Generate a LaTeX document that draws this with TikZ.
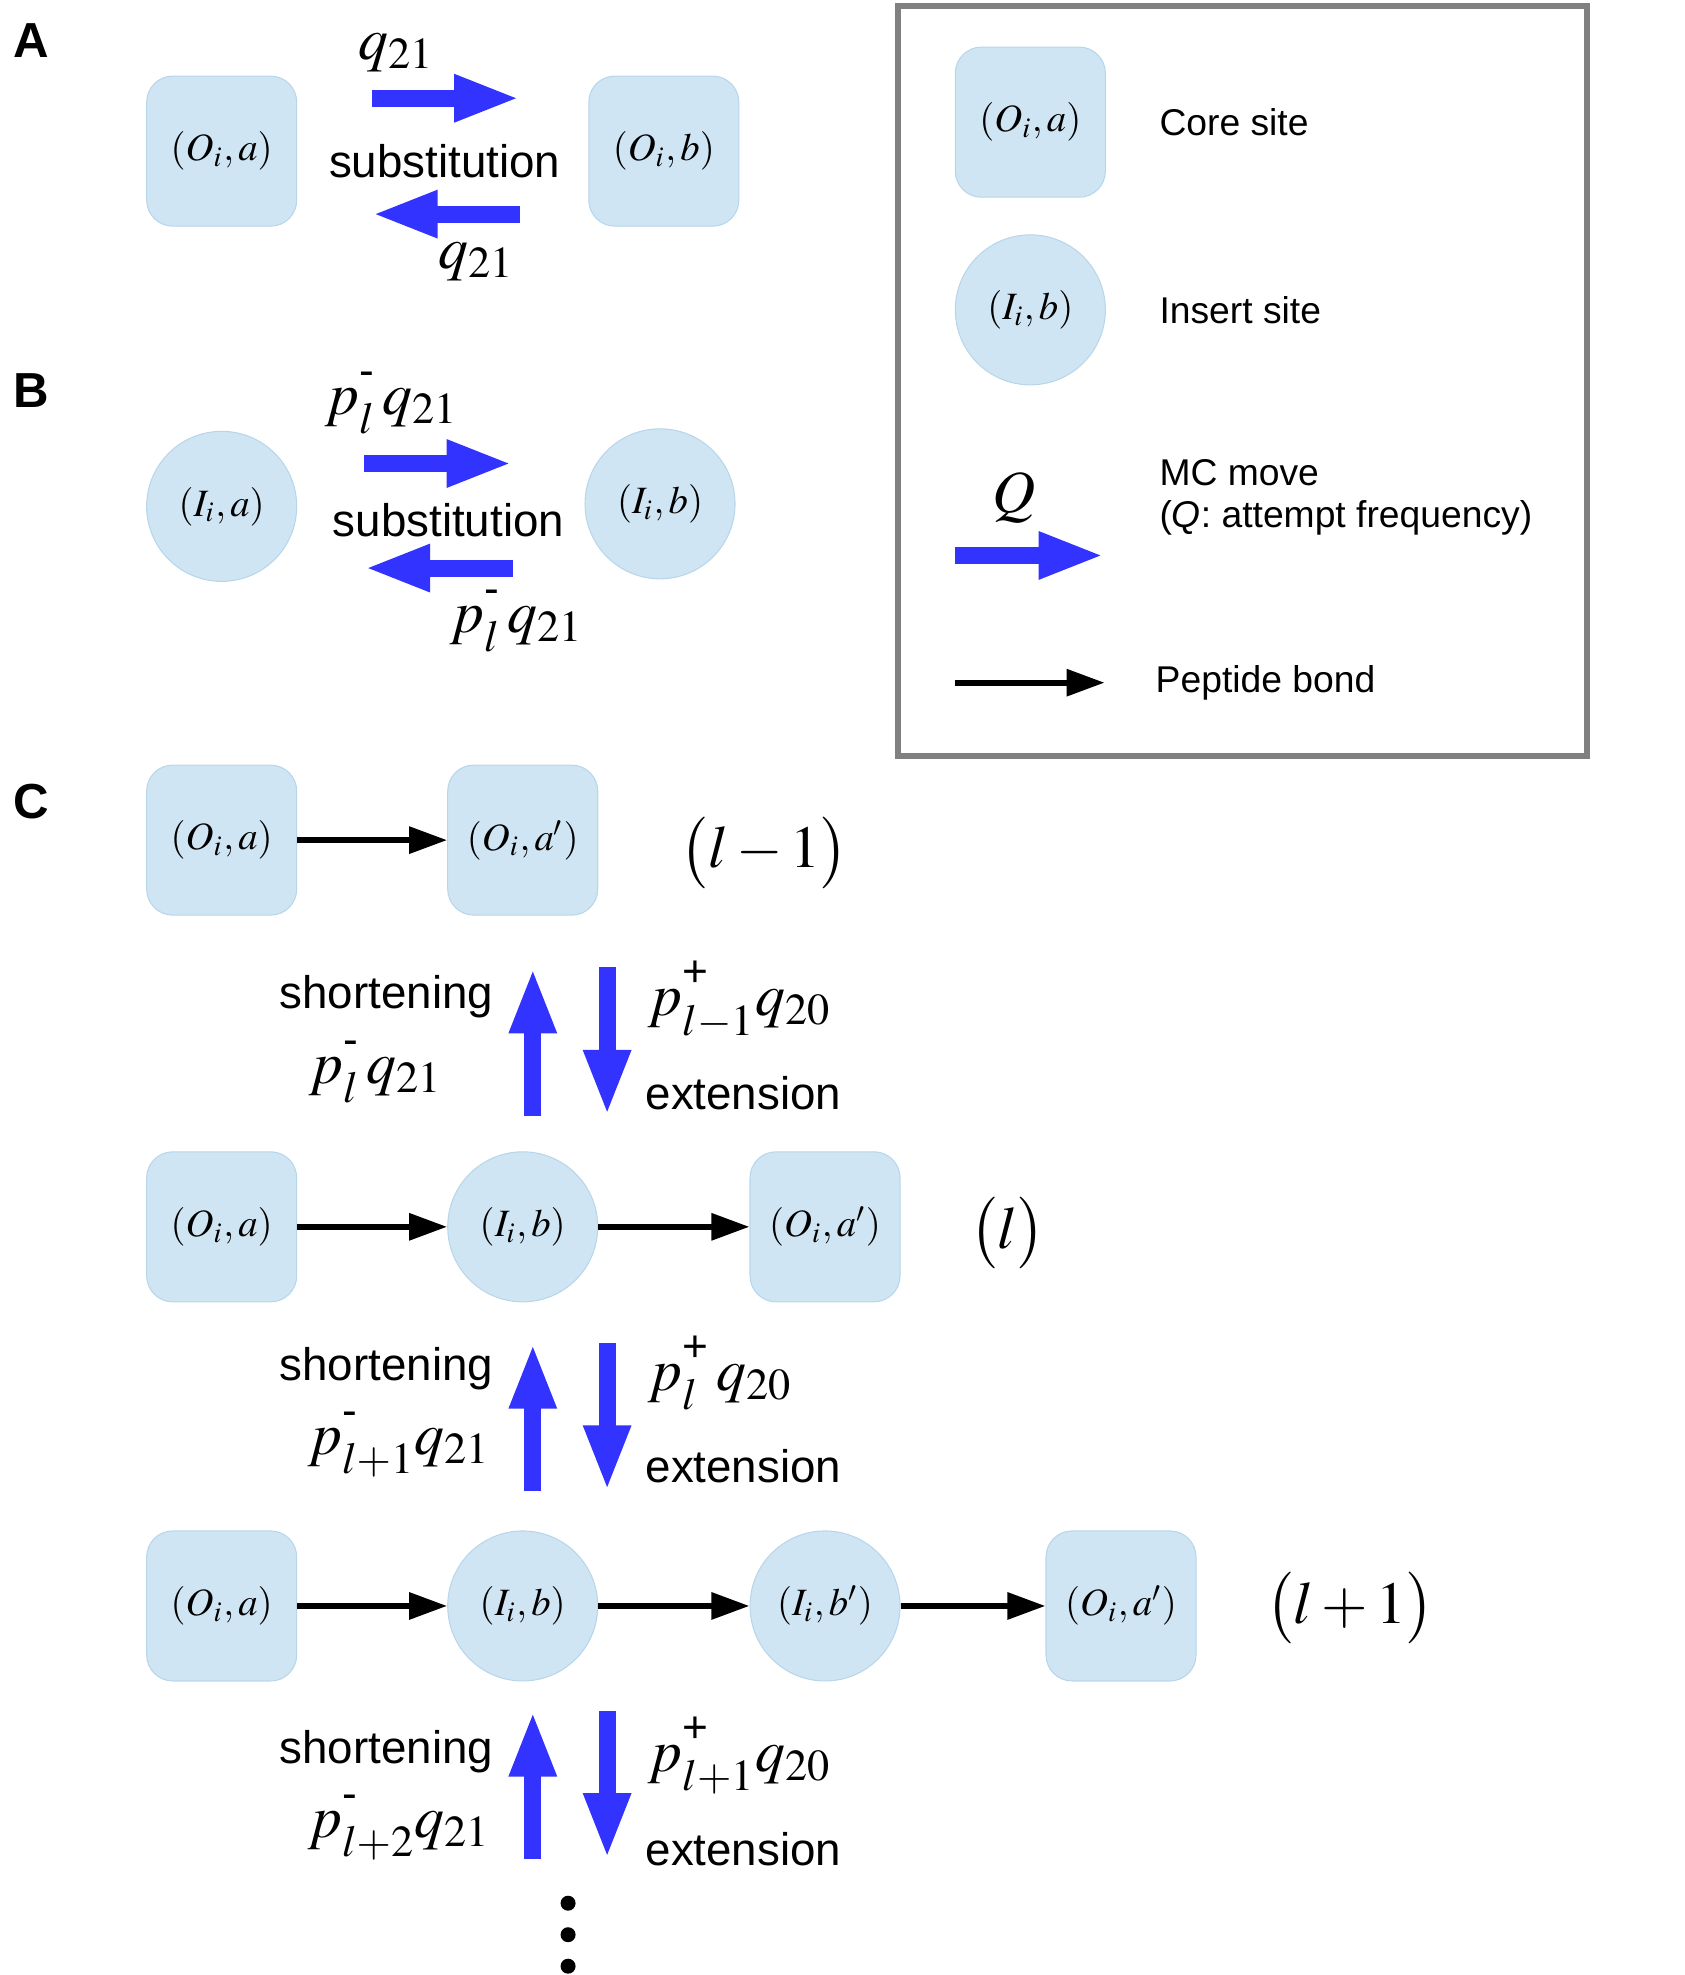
\documentclass[tikz,border=0pt]{standalone}
\usepackage{amsmath}
\usepackage{mathptmx}
\usepackage[no-math]{fontspec}
\setmainfont{Liberation Sans}
\usepackage{tikz}
\usetikzlibrary{arrows.meta}
\usetikzlibrary{math}
\usetikzlibrary{positioning}

\definecolor{siteblue}{RGB}{207,229,243}
\definecolor{siteedge}{RGB}{184,214,234}
\definecolor{moveblue}{RGB}{51,51,255}
\definecolor{legendgray}{RGB}{128,128,128}

% raised sign over a subscripted p
\newcommand{\chg}[1]{\text{\rule[-0.35ex]{0pt}{0pt}#1}}

\tikzset{
  core/.style={rectangle, rounded corners=2.6mm, minimum width=15mm, minimum height=15mm,
    inner sep=0pt, fill=siteblue, draw=siteedge, line width=0.3pt, font=\fontsize{11}{13}\selectfont},
  insert/.style={circle, minimum size=15mm, inner sep=0pt, fill=siteblue, draw=siteedge,
    line width=0.3pt, font=\fontsize{11}{13}\selectfont},
  bond/.style={-{Triangle[length=3.8mm,width=2.6mm]}, line width=0.6mm},
  move/.style={-{Triangle[length=6.6mm,width=4.3mm]}, line width=1.7mm, draw=moveblue},
  txt/.style={inner sep=0pt, font=\fontsize{13}{15}\selectfont},
  legtxt/.style={inner sep=0pt, anchor=west, align=left, font=\fontsize{10.6}{11.8}\selectfont},
  rate/.style={inner sep=0pt, font=\fontsize{17}{20}\selectfont},
  panel/.style={inner sep=0pt, font=\fontsize{14}{16}\selectfont\bfseries},
}

\begin{document}
\begin{tikzpicture}[x=0.12595mm, y=-0.12595mm]
\useasboundingbox (0,0) rectangle (1337,1568);

% A: substitution at a core site
\node[panel] (labA) at (25,32) {A};
\node[core] (Aa) at (176,120) {$(O_i,a)$};
\node[core] (Ab) at (527,120) {$(O_i,b)$};
\coordinate (Af1) at (295,78);  \coordinate (Af2) at (413,78);
\coordinate (Ar1) at (413,170); \coordinate (Ar2) at (295,170);
\draw[move] (Af1) -- (Af2);
\draw[move] (Ar1) -- (Ar2);
\node[txt] (subA) at (353,128) {substitution};
\node[rate] (qA1) at (315,42) {$q_{21}$};
\node[rate] (qA2) at (378,208) {$q_{21}$};

% B: substitution at an insert site
\node[panel] (labB) at (25,310) {B};
\node[insert] (Ba) at (176,402) {$(I_i,a)$};
\node[insert] (Bb) at (524,400) {$(I_i,b)$};
\coordinate (Bf1) at (289,368); \coordinate (Bf2) at (407,368);
\coordinate (Br1) at (407,451); \coordinate (Br2) at (289,451);
\draw[move] (Bf1) -- (Bf2);
\draw[move] (Br1) -- (Br2);
\node[txt] (subB) at (356,413) {substitution};
\node[rate] (pB1) at (311,320) {$p^{\chg{-}}_{l}\,q_{21}$};
\node[rate] (pB2) at (410,493) {$p^{\chg{-}}_{l}\,q_{21}$};

% legend
\draw[legendgray, line width=0.6mm] (713,5) rectangle (1260,600);
\node[core] (Lcore) at (818,97) {$(O_i,a)$};
\node[legtxt] (Lcoretxt) at (920,97) {Core site};
\node[insert] (Lins) at (818,246) {$(I_i,b)$};
\node[legtxt] (Linstxt) at (920,246) {Insert site};
\node[rate] (LQ) at (805,395) {$Q$};
\coordinate (Lm1) at (758,441); \coordinate (Lm2) at (877,441);
\draw[move] (Lm1) -- (Lm2);
\node[legtxt] (Lmovetxt) at (920,395) {MC move\\(\textit{Q}: attempt frequency)};
\coordinate (Lb1) at (758,542); \coordinate (Lb2) at (877,542);
\draw[bond] (Lb1) -- (Lb2);
\node[legtxt] (Lbondtxt) at (917,542) {Peptide bond};

% C: chains of length l-1, l, l+1
\node[panel] (labC) at (25,636) {C};
\node[core] (C11) at (176,667) {$(O_i,a)$};
\node[core] (C12) at (415,667) {$(O_i,a')$};
\draw[bond] (C11) -- (C12);
\node[rate] (len1) at (607,677) {$\bigl(l-1\bigr)$};

\node[core] (C21) at (176,974) {$(O_i,a)$};
\node[insert] (C22) at (415,974) {$(I_i,b)$};
\node[core] (C23) at (655,974) {$(O_i,a')$};
\draw[bond] (C21) -- (C22);
\draw[bond] (C22) -- (C23);
\node[rate] (len2) at (800,979) {$\bigl(l\bigr)$};

\node[core] (C31) at (176,1275) {$(O_i,a)$};
\node[insert] (C32) at (415,1275) {$(I_i,b)$};
\node[insert] (C33) at (655,1275) {$(I_i,b')$};
\node[core] (C34) at (890,1275) {$(O_i,a')$};
\draw[bond] (C31) -- (C32);
\draw[bond] (C32) -- (C33);
\draw[bond] (C33) -- (C34);
\node[rate] (len3) at (1072,1277) {$\bigl(l+1\bigr)$};

% shortening / extension moves between the rows
\foreach \yt/\yl/\xm/\mlab/\plab [count=\i] in {
  768/768/298/{p^{\chg{-}}_{l}\,q_{21}}/{p^{\chg{+}}_{l-1}q_{20}},
  1066/1064/317/{p^{\chg{-}}_{l+1}q_{21}}/{p^{\chg{+}}_{l}\,q_{20}},
  1358/1368/317/{p^{\chg{-}}_{l+2}q_{21}}/{p^{\chg{+}}_{l+1}q_{20}}}{
  \coordinate (sh\i a) at (423,\yt+118);
  \coordinate (sh\i b) at (423,\yt);
  \coordinate (ex\i a) at (482,\yt);
  \coordinate (ex\i b) at (482,\yt+118);
  \draw[move] (sh\i a) -- (sh\i b);
  \draw[move] (ex\i a) -- (ex\i b);
  \node[txt, anchor=east] (short\i) at (392,\yl+23) {shortening};
  \node[rate] (pm\i) at (\xm,\yl+83) {$\mlab$};
  \node[rate, anchor=west] (pp\i) at (514,\yl+26) {$\plab$};
  \node[txt, anchor=west] (ext\i) at (512,\yl+100) {extension};
}

\foreach \yd in {1511,1536,1561}
  \fill[black] (451,\yd) circle (0.75mm);
\end{tikzpicture}
\end{document}
